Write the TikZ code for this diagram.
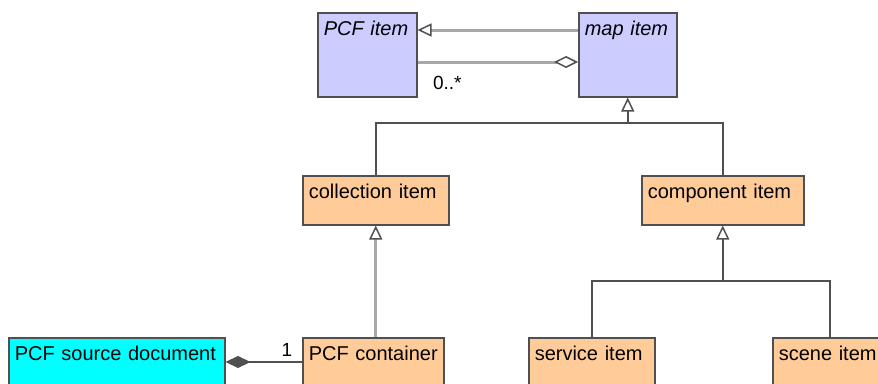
\documentclass[tikz,border=0pt]{standalone}
\usepackage{fontspec}
\setmainfont{Liberation Sans}
\usetikzlibrary{arrows.meta}
\definecolor{lav}{HTML}{CCCCFF}
\definecolor{peach}{HTML}{FFCC99}
\definecolor{aqua}{HTML}{00FFFF}
\definecolor{edge}{HTML}{505050}
\definecolor{pale}{HTML}{A8A8A8}
\tikzset{
  cls/.style={draw=edge, line width=1.5pt, anchor=north west, inner xsep=6pt,
    inner ysep=0pt, align=left, text height=23pt, font=\fontsize{20}{22}\selectfont},
  lbl/.style={inner sep=0pt, font=\fontsize{19}{21}\selectfont},
  wire/.style={draw=edge, line width=1.6pt},
  soft/.style={draw=pale, line width=3pt},
  isa/.style={-{Triangle[open, length=14pt, width=13pt, color=edge, line width=1.5pt]}},
  hasa/.style={-{Diamond[open, length=24pt, width=12pt, color=edge, line width=1.5pt]}},
  owns/.style={-{Diamond[length=25pt, width=12pt]}}
}
\begin{document}
\begin{tikzpicture}[x=1pt,y=-1pt]
\useasboundingbox (0,0) rectangle (878,383);
\clip (0,0) rectangle (878,383);
% class boxes: name/x/y/width/height/fill/text
\foreach \n/\x/\y/\w/\h/\col/\txt in {
  pcfitem/317/12/99/84/lav/\textit{PCF item},
  mapitem/578/12/98/84/lav/\textit{map item},
  coll/302/175/146/49/peach/collection item,
  comp/641/175/162/49/peach/component item,
  src/8/337/216/60/aqua/PCF source document,
  cont/302/337/141/60/peach/PCF container,
  serv/528/337/126/60/peach/service item,
  scene/772/337/114/60/peach/scene item}{
  \pgfmathsetmacro\tw{\w-12}
  \pgfmathsetmacro\td{\h-23}
  \node[cls, fill=\col, text width=\tw pt, text depth=\td pt] (\n) at (\x,\y) {\txt};
}
% generalisation trees
\coordinate (j1) at (mapitem.south |- 0,123);
\coordinate (j2) at (comp.south |- 0,281);
\draw[wire] (coll.north) |- (j1) -| (comp.north);
\draw[wire, isa] (j1) -- (mapitem.south);
\draw[wire] (serv.north) |- (j2) -| (scene.north);
\draw[wire, isa] (j2) -- (comp.south);
\draw[soft, isa] (coll.south |- cont.north) -- (coll.south);
% links between the two top classes
\draw[soft, isa] ([yshift=-18pt]mapitem.north west) -- ([yshift=-18pt]pcfitem.north east);
\draw[soft, hasa] ([yshift=-50pt]pcfitem.north east)
  node[lbl, anchor=north west, xshift=14pt, yshift=-13pt] {0..*}
  -- ([yshift=-50pt]mapitem.north west);
% composition
\draw[wire, owns] ([yshift=-25pt]cont.north west)
  node[lbl, anchor=south east, xshift=-9pt, yshift=5pt] {1}
  -- ([yshift=-25pt]src.north east);
\end{tikzpicture}
\end{document}
